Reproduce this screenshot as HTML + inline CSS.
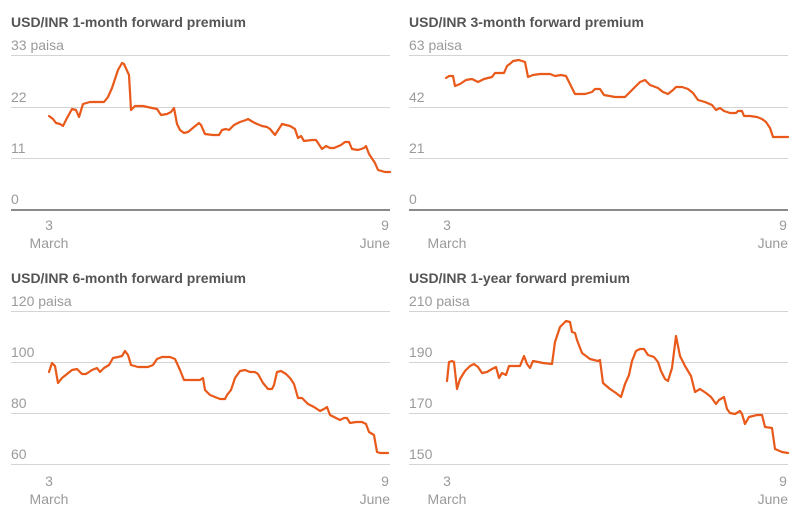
<!DOCTYPE html>
<html><head><meta charset="utf-8"><style>
html,body{margin:0;padding:0;background:#fff;}
svg{display:block;font-family:"Liberation Sans",sans-serif;}
.t{font-size:14px;font-weight:bold;fill:#555;}
.l{font-size:14px;fill:#9a9a9a;}
.g{stroke:#d4d4d4;stroke-width:1;}
.a{stroke:#444;stroke-width:1.2;}
.s{fill:none;stroke:#e8591a;stroke-width:2.2;stroke-linejoin:round;stroke-linecap:round;}
</style></head><body>
<svg width="812" height="519" viewBox="0 0 812 519">
<!-- TL -->
<text class="t" x="11" y="27">USD/INR 1-month forward premium</text>
<line class="g" x1="11" x2="390" y1="55.5" y2="55.5"/><line class="g" x1="11" x2="390" y1="107.5" y2="107.5"/><line class="g" x1="11" x2="390" y1="158.5" y2="158.5"/><line class="a" x1="11" x2="390" y1="210" y2="210"/>
<text class="l" x="11" y="50">33 paisa</text><text class="l" x="11" y="102">22</text><text class="l" x="11" y="153">11</text><text class="l" x="11" y="204">0</text>
<text class="l" x="49" y="230" text-anchor="middle">3</text><text class="l" x="49" y="248" text-anchor="middle">March</text>
<text class="l" x="385" y="230" text-anchor="middle">9</text><text class="l" x="390" y="248" text-anchor="end">June</text>
<polyline class="s" points="49,116 53,119 56,123 60,124 63,126 67,118 72,109 76,110 79,117 83,104 90,102 100,102 104,102 108,97 112,88 118,70 122,63 124,64 129,75 131,110 135,106 143,106 152,108 157,109 161,115 167,114 171,112 174,108 177,124 180,130 184,133 188,132 194,127 199,123 201,125 205,134 213,135 219,135 222,130 226,129 229,130 234,125 240,122 246,120 248,119 253,122 257,124 262,126 267,127 270,129 275,135 282,124 290,126 295,129 298,138 301,136 304,141 312,140 316,140 322,149 326,146 330,148 334,148 341,145 345,142 349,142 352,149 358,150 364,148 366,146 369,154 375,163 378,170 385,172 390,172"/>
<!-- TR -->
<text class="t" x="409" y="27">USD/INR 3-month forward premium</text>
<line class="g" x1="409" x2="788" y1="55.5" y2="55.5"/><line class="g" x1="409" x2="788" y1="107.5" y2="107.5"/><line class="g" x1="409" x2="788" y1="158.5" y2="158.5"/><line class="a" x1="409" x2="788" y1="210" y2="210"/>
<text class="l" x="409" y="50">63 paisa</text><text class="l" x="409" y="102">42</text><text class="l" x="409" y="153">21</text><text class="l" x="409" y="204">0</text>
<text class="l" x="447" y="230" text-anchor="middle">3</text><text class="l" x="447" y="248" text-anchor="middle">March</text>
<text class="l" x="783" y="230" text-anchor="middle">9</text><text class="l" x="788" y="248" text-anchor="end">June</text>
<polyline class="s" points="446,78 449,76 453,76 455,86 460,84 466,80 472,79 478,82 484,79 492,77 495,73 500,73 504,73 507,66 511,63 513,61 519,60 525,62 528,77 533,75 540,74 550,74 555,76 561,75 566,76 570,84 575,94 585,94 592,92 595,89 600,89 604,95 615,97 625,97 632,90 640,82 645,80 650,85 658,88 663,92 668,94 673,90 676,87 682,87 688,89 693,93 698,100 705,102 712,105 716,110 720,108 724,111 730,113 736,113 738,111 742,111 744,116 750,116 757,117 762,119 766,122 770,128 773,137 780,137 788,137"/>
<!-- BL -->
<text class="t" x="11" y="283">USD/INR 6-month forward premium</text>
<line class="g" x1="11" x2="390" y1="311.5" y2="311.5"/><line class="g" x1="11" x2="390" y1="362.5" y2="362.5"/><line class="g" x1="11" x2="390" y1="413.5" y2="413.5"/><line class="g" x1="11" x2="390" y1="464.5" y2="464.5"/>
<text class="l" x="11" y="306">120 paisa</text><text class="l" x="11" y="357">100</text><text class="l" x="11" y="408">80</text><text class="l" x="11" y="459">60</text>
<text class="l" x="49" y="486" text-anchor="middle">3</text><text class="l" x="49" y="504" text-anchor="middle">March</text>
<text class="l" x="385" y="486" text-anchor="middle">9</text><text class="l" x="390" y="504" text-anchor="end">June</text>
<polyline class="s" points="49,372 52,363 55,366 58,383 62,378 67,374 72,370 77,369 82,374 86,374 92,370 97,368 100,372 104,368 109,365 113,358 118,357 122,356 125,351 128,355 131,365 138,367 148,367 153,365 157,359 162,357 170,357 175,359 180,370 184,380 192,380 200,380 203,378 205,390 210,395 220,399 225,399 227,395 231,390 235,378 240,371 245,370 250,372 255,372 258,374 263,383 268,389 272,389 274,385 277,372 281,371 286,374 290,378 294,384 298,398 302,398 308,404 314,407 320,411 324,409 327,407 330,415 334,417 340,420 344,418 347,418 350,423 356,422 362,422 366,424 369,432 374,435 377,452 380,453 388,453"/>
<!-- BR -->
<text class="t" x="409" y="283">USD/INR 1-year forward premium</text>
<line class="g" x1="409" x2="788" y1="311.5" y2="311.5"/><line class="g" x1="409" x2="788" y1="362.5" y2="362.5"/><line class="g" x1="409" x2="788" y1="413.5" y2="413.5"/><line class="g" x1="409" x2="788" y1="464.5" y2="464.5"/>
<text class="l" x="409" y="306">210 paisa</text><text class="l" x="409" y="357">190</text><text class="l" x="409" y="408">170</text><text class="l" x="409" y="459">150</text>
<text class="l" x="447" y="486" text-anchor="middle">3</text><text class="l" x="447" y="504" text-anchor="middle">March</text>
<text class="l" x="783" y="486" text-anchor="middle">9</text><text class="l" x="788" y="504" text-anchor="end">June</text>
<polyline class="s" points="447,381 449,362 452,361 454,362 457,389 460,379 465,371 470,366 474,364 478,367 482,373 487,372 492,369 496,367 499,378 502,373 506,375 509,366 520,366 524,356 527,364 530,368 533,361 543,363 552,364 555,342 560,327 566,321 570,322 572,332 575,333 577,340 582,353 590,359 598,361 600,360 603,383 610,389 616,393 621,397 625,384 629,375 632,361 636,351 640,349 644,349 648,355 654,357 658,362 661,371 665,379 668,381 672,368 676,336 680,356 685,366 691,376 695,392 700,389 706,393 711,397 716,404 719,400 724,397 727,409 730,413 735,414 740,411 742,414 745,424 749,417 757,415 762,415 765,427 772,428 775,449 782,452 788,453"/>
</svg>
</body></html>
